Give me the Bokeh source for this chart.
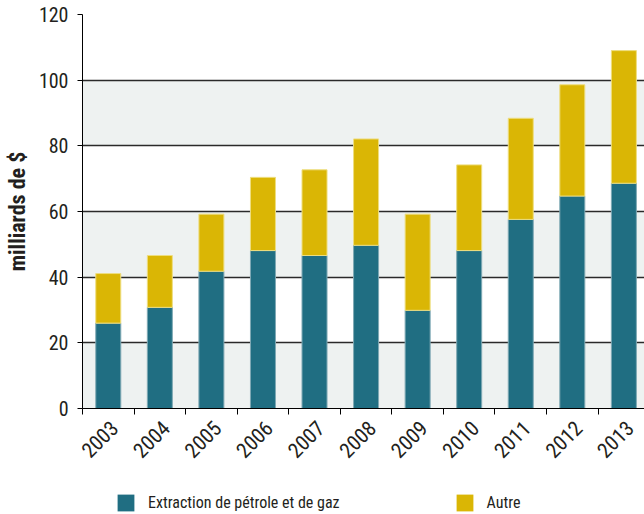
import math
from bokeh.plotting import figure
from bokeh.layouts import column
from bokeh.models import (Range1d, FixedTicker, BoxAnnotation, Legend, LegendItem,
                          ColumnDataSource)
from bokeh.embed import file_html
from bokeh.resources import INLINE

years = ["2003", "2004", "2005", "2006", "2007", "2008", "2009", "2010", "2011", "2012", "2013"]
extraction = [26.0, 30.8, 41.8, 48.1, 46.6, 49.7, 29.9, 48.1, 57.6, 64.7, 68.6]
autre = [15.1, 15.8, 17.4, 22.3, 26.1, 32.4, 29.3, 26.1, 30.8, 33.9, 40.4]
y_ticks = [0, 20, 40, 60, 80, 100, 120]
series_names = ["Extraction de pétrole et de gaz", "Autre"]

TEAL = "#206e82"
GOLD = "#dab605"
BAND = "#eef2f1"
FONT = "Roboto Condensed"
TXT = "#231f20"
LABEL_SHIFT = 0.12  # rotated year labels sit slightly right of the bar centre

xs = list(range(len(years)))
src = ColumnDataSource(dict(x=xs, ext=extraction, autre=autre))

p = figure(width=644, height=470, output_backend="svg", toolbar_location=None,
           x_range=Range1d(-0.5, 10.4), y_range=Range1d(0, 120),
           min_border_left=82, min_border_top=14, min_border_right=0, min_border_bottom=62)
p.outline_line_color = None
p.background_fill_color = "white"
p.border_fill_color = "white"

for lo in (0, 40, 80):
    p.add_layout(BoxAnnotation(bottom=lo, top=lo + 20, fill_color=BAND, fill_alpha=1,
                               line_color=None, level="image"))

r1 = p.vbar_stack(["ext", "autre"], x="x", width=0.485, source=src,
                  color=[TEAL, GOLD], line_color=["#7fa9b4", "#eede80"], line_width=1)

p.yaxis.ticker = FixedTicker(ticks=y_ticks)
p.yaxis.axis_label = "milliards de $"
p.yaxis.axis_label_text_font = FONT
p.yaxis.axis_label_text_font_style = "bold"
p.yaxis.axis_label_text_font_size = "22px"
p.yaxis.axis_label_text_color = TXT
p.yaxis.axis_label_standoff = 6
p.yaxis.major_label_text_font = FONT
p.yaxis.major_label_text_font_size = "20px"
p.yaxis.major_label_text_color = TXT
p.yaxis.major_label_standoff = 9
p.yaxis.major_tick_out = 5
p.yaxis.major_tick_in = 0
p.yaxis.minor_tick_line_color = None
p.yaxis.axis_line_color = "black"
p.yaxis.major_tick_line_color = "black"

label_pos = [i + LABEL_SHIFT for i in xs]
p.xaxis.ticker = FixedTicker(ticks=label_pos, minor_ticks=[i - 0.5 for i in range(len(years) + 1)])
p.xaxis.major_label_overrides = {pos: y for pos, y in zip(label_pos, years)}
p.xaxis.major_label_orientation = math.pi / 4
p.xaxis.major_label_text_font = FONT
p.xaxis.major_label_text_font_size = "21px"
p.xaxis.major_label_text_color = TXT
p.xaxis.major_tick_out = 0
p.xaxis.major_tick_in = 0
p.xaxis.major_label_standoff = 10
p.xaxis.minor_tick_out = 6
p.xaxis.minor_tick_in = 0
p.xaxis.minor_tick_line_color = "black"
p.xaxis.axis_line_color = "black"

p.xgrid.grid_line_color = None
p.ygrid.ticker = FixedTicker(ticks=y_ticks)
p.ygrid.grid_line_color = "#2a2a2a"
p.ygrid.grid_line_width = 1.5

# legend strip below the chart (zero-height proxy bars outside the visible range)
lg = figure(width=644, height=44, output_backend="svg", toolbar_location=None,
            x_range=Range1d(0, 1), y_range=Range1d(0, 1),
            min_border_left=0, min_border_right=0, min_border_top=0, min_border_bottom=0)
lg.axis.visible = False
lg.grid.visible = False
lg.outline_line_color = None
d1 = lg.vbar(x=[-10], top=[0], width=1, fill_color=TEAL, line_color=None)
d2 = lg.vbar(x=[-10], top=[0], width=1, fill_color=GOLD, line_color=None)
legend = Legend(items=[LegendItem(label=series_names[0], renderers=[d1]),
                       LegendItem(label=series_names[1], renderers=[d2])],
                orientation="horizontal", location=(33, 1),
                glyph_width=21, glyph_height=21, label_standoff=12, spacing=114,
                padding=0, margin=0, border_line_color=None, background_fill_alpha=0,
                label_text_font=FONT, label_text_font_size="16px", label_text_color=TXT)
lg.add_layout(legend, "center")

layout = column(p, lg, spacing=0)
open("out.html", "w").write(file_html(layout, INLINE))
